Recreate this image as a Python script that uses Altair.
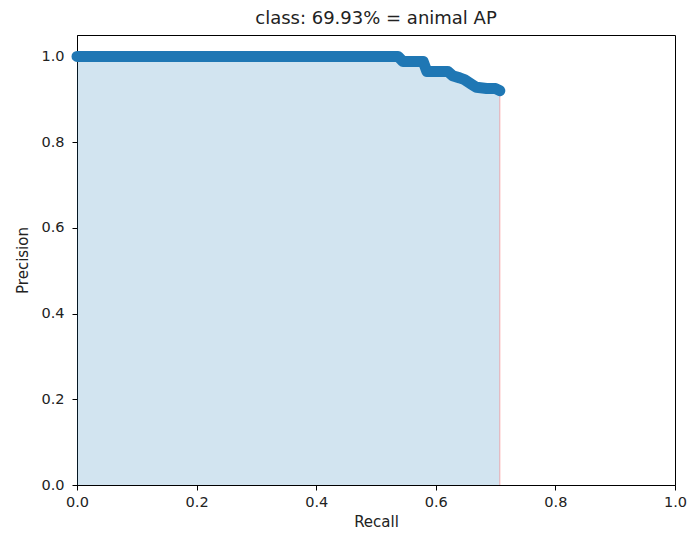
import altair as alt
import pandas as pd

recall = [0.0, 0.537, 0.545, 0.579, 0.585, 0.620, 0.628, 0.640, 0.648, 0.660, 0.668, 0.685, 0.700, 0.707]
precision = [1.0, 1.0, 0.988, 0.988, 0.965, 0.965, 0.955, 0.950, 0.946, 0.935, 0.928, 0.925, 0.925, 0.920]
x_ticks = [0.0, 0.2, 0.4, 0.6, 0.8, 1.0]
y_ticks = [0.0, 0.2, 0.4, 0.6, 0.8, 1.0]
title = "class: 69.93% = animal AP"

df = pd.DataFrame({"recall": recall, "precision": precision})
edge = pd.DataFrame({"recall": [recall[-1]], "p0": [0.0], "p1": [precision[-1]]})

FONT = "DejaVu Sans"
BLUE = "#1f77b4"
TXT = "#222222"

x_enc = alt.X("recall:Q", scale=alt.Scale(domain=[0, 1], nice=False, zero=False),
              axis=alt.Axis(title="Recall", values=x_ticks, format=".1f", grid=False,
                            domainColor="black", tickColor="black", tickSize=5,
                            labelFlush=False, labelOverlap=False,
                            labelFontSize=14.5, labelColor=TXT, labelPadding=5,
                            titleFontSize=15, titleFontWeight="normal", titleColor=TXT,
                            titlePadding=6, labelFont=FONT, titleFont=FONT))
y_enc = alt.Y("precision:Q", scale=alt.Scale(domain=[0, 1.05], nice=False, zero=False),
              axis=alt.Axis(title="Precision", values=y_ticks, format=".1f", grid=False,
                            domainColor="black", tickColor="black", tickSize=5,
                            labelFlush=False, labelOverlap=False,
                            labelFontSize=14.5, labelColor=TXT, labelPadding=8,
                            titleFontSize=15, titleFontWeight="normal", titleColor=TXT,
                            titlePadding=10, labelFont=FONT, titleFont=FONT))

area = alt.Chart(df).mark_area(color=BLUE, opacity=0.2).encode(x=x_enc, y=y_enc)
rule = alt.Chart(edge).mark_rule(color="red", opacity=0.2, strokeWidth=1.5).encode(
    x="recall:Q", y="p0:Q", y2="p1:Q")
line = alt.Chart(df).mark_line(color=BLUE, strokeWidth=11, strokeCap="round",
                               strokeJoin="round").encode(x="recall:Q", y="precision:Q")

chart = alt.layer(area, rule, line).properties(
    width=598, height=450,
    title=alt.TitleParams(title, fontSize=18, fontWeight="normal", font=FONT,
                          color=TXT, offset=7),
    autosize=alt.AutoSizeParams(type="none"),
    padding={"left": 69, "top": 27, "right": 13, "bottom": 46},
).configure(background="white", view=alt.ViewConfig(stroke="black", strokeWidth=1))

chart.save("out.html", embed_options={"renderer": "svg", "actions": False})
